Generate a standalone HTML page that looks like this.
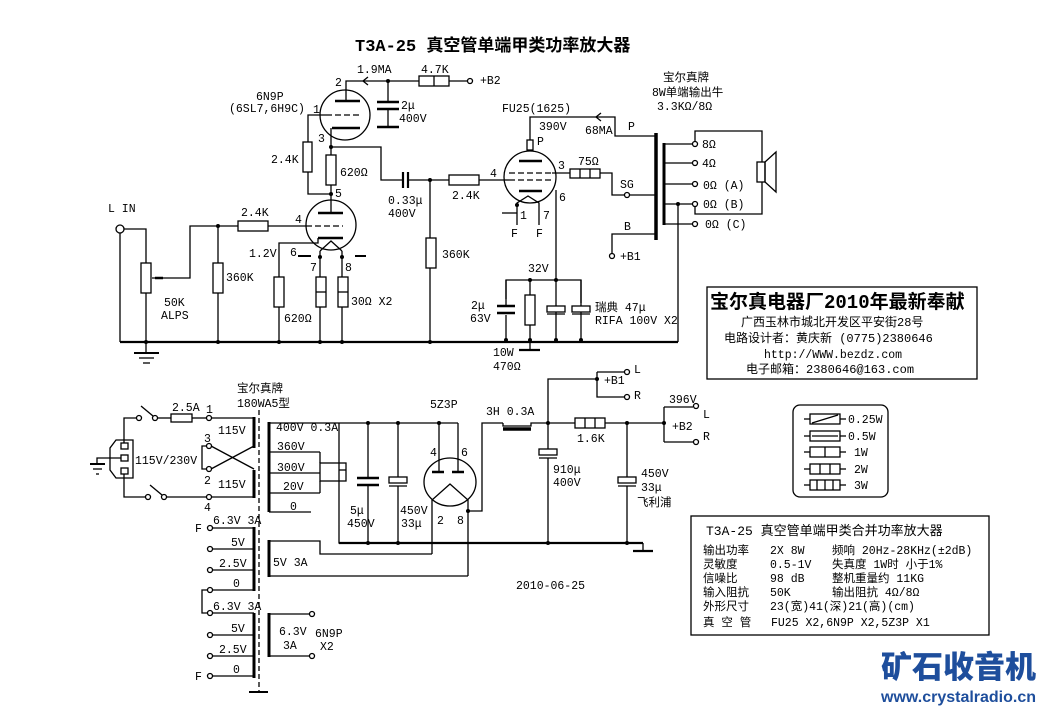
<!DOCTYPE html>
<html><head><meta charset="utf-8"><style>
html,body{margin:0;padding:0;background:#fff;}
svg{display:block;}
text{font-family:"Liberation Mono","Noto Sans CJK SC",monospace;font-size:11.5px;fill:#000;}
.cj{font-family:"Liberation Mono","Noto Sans CJK SC",monospace;}
</style></head><body>
<svg width="1046" height="710" viewBox="0 0 1046 710" xmlns="http://www.w3.org/2000/svg">
<rect width="1046" height="710" fill="#fff"/>
<g stroke="#000" stroke-width="1.3" fill="none">
<polyline points="346,101 346,81 419,81"/>
<rect x="419" y="76" width="30" height="10" fill="#fff"/><line x1="434" y1="76" x2="434" y2="86"/>
<line x1="449" y1="81" x2="467" y2="81"/><circle cx="470" cy="81" r="2.5" fill="#fff"/>
<polyline points="368,77 363,81 368,85"/>
<line x1="388" y1="81" x2="388" y2="102"/>
<line x1="377" y1="102" x2="399" y2="102" stroke-width="2.5"/><line x1="377" y1="109" x2="399" y2="109" stroke-width="2.5"/>
<line x1="388" y1="109" x2="388" y2="127"/><line x1="377" y1="127" x2="399" y2="127" stroke-width="2.5"/>
<circle cx="345" cy="115" r="25"/>
<line x1="335" y1="101" x2="360" y2="101" stroke-width="2.5"/>
<line x1="326" y1="115" x2="360" y2="115" stroke-dasharray="6,3"/>
<line x1="332" y1="128" x2="360" y2="128" stroke-width="2.5"/>
<polyline points="326,115 308,115 308,142"/>
<rect x="303" y="142" width="9" height="30" fill="#fff"/>
<polyline points="308,172 308,194 331,194"/>
<line x1="331" y1="128" x2="331" y2="155"/>
<rect x="326" y="155" width="10" height="30" fill="#fff"/>
<line x1="331" y1="185" x2="331" y2="212"/>
<polyline points="331,147 381,147 381,180 402,180"/>
<line x1="403" y1="172" x2="403" y2="188" stroke-width="2.2"/><line x1="408" y1="172" x2="408" y2="188" stroke-width="2.2"/>
<line x1="408" y1="180" x2="449" y2="180"/>
<rect x="449" y="175" width="30" height="10" fill="#fff"/>
<line x1="479" y1="180" x2="504" y2="180"/>
<line x1="430" y1="180" x2="430" y2="238"/>
<rect x="426" y="238" width="10" height="30" fill="#fff"/>
<line x1="430" y1="268" x2="430" y2="342"/>
<circle cx="331" cy="225" r="25"/>
<line x1="318" y1="213" x2="343" y2="213" stroke-width="2.5"/>
<line x1="306" y1="226" x2="343" y2="226" stroke-dasharray="6,3"/>
<line x1="318" y1="238" x2="343" y2="238" stroke-width="2.5"/>
<polyline points="318,238 318,243 279,243 279,277"/>
<polyline points="320,251 331,241 342,251"/>
<line x1="320" y1="251" x2="320" y2="342"/><line x1="342" y1="251" x2="342" y2="342"/>
<rect x="316" y="277" width="10" height="30" fill="#fff"/><line x1="316" y1="292" x2="326" y2="292"/>
<rect x="338" y="277" width="10" height="30" fill="#fff"/><line x1="338" y1="292" x2="348" y2="292"/>
<rect x="274" y="277" width="10" height="30" fill="#fff"/>
<line x1="279" y1="307" x2="279" y2="342"/>
<line x1="298" y1="256" x2="311" y2="256" stroke-width="2"/><line x1="355" y1="256" x2="366" y2="256" stroke-width="2"/>
<circle cx="120" cy="229" r="4"/>
<polyline points="120,233 120,342"/>
<polyline points="124,229 146,229 146,263"/>
<rect x="141" y="263" width="10" height="30" fill="#fff"/>
<line x1="146" y1="293" x2="146" y2="342"/>
<polyline points="152,278 190,278 190,226 238,226"/>
<line x1="155" y1="278" x2="163" y2="278" stroke-width="2.5"/>
<rect x="238" y="221" width="30" height="10" fill="#fff"/>
<line x1="268" y1="226" x2="306" y2="226"/>
<line x1="218" y1="226" x2="218" y2="263"/>
<rect x="213" y="263" width="10" height="30" fill="#fff"/>
<line x1="218" y1="293" x2="218" y2="342"/>
<line x1="120" y1="342" x2="678" y2="342" stroke-width="2.2"/>
<line x1="134" y1="353" x2="159" y2="353" stroke-width="2"/>
<line x1="139" y1="358" x2="154" y2="358"/><line x1="143" y1="363" x2="150" y2="363"/>
<line x1="146" y1="342" x2="146" y2="353"/>
<circle cx="530" cy="177" r="26"/>
<rect x="527" y="140" width="6" height="10" fill="#fff"/>
<polyline points="530,140 530,117 615,117 615,136 655,136"/>
<polyline points="601,113 596,117 601,121"/>
<line x1="519" y1="161" x2="542" y2="161" stroke-width="2.5"/>
<line x1="509" y1="173" x2="552" y2="173" stroke-dasharray="6,3"/>
<line x1="509" y1="180" x2="552" y2="180" stroke-dasharray="6,3"/>
<line x1="519" y1="191" x2="542" y2="191" stroke-width="2.5"/>
<line x1="504" y1="180" x2="509" y2="180"/>
<polyline points="517,225 517,203 528,196 539,203 539,225"/>
<polyline points="502,213 517,213"/>
<line x1="556" y1="190" x2="556" y2="280"/>
<line x1="552" y1="173" x2="570" y2="173"/>
<rect x="570" y="169" width="30" height="9" fill="#fff"/><line x1="580" y1="169" x2="580" y2="178"/><line x1="590" y1="169" x2="590" y2="178"/>
<polyline points="600,173 612,173 612,195 624,195"/><circle cx="627" cy="195" r="2.5" fill="#fff"/>
<line x1="630" y1="195" x2="655" y2="195"/>
<polyline points="655,234 612,234 612,253"/><circle cx="612" cy="256" r="2.5" fill="#fff"/>
<line x1="656" y1="133" x2="656" y2="240" stroke-width="3.5"/>
<line x1="664" y1="143" x2="664" y2="225" stroke-width="3"/>
<g>
<line x1="664" y1="144" x2="692" y2="144"/><circle cx="695" cy="144" r="2.5" fill="#fff"/>
<line x1="664" y1="163" x2="692" y2="163"/><circle cx="695" cy="163" r="2.5" fill="#fff"/>
<line x1="664" y1="184" x2="692" y2="184"/><circle cx="695" cy="184" r="2.5" fill="#fff"/>
<line x1="664" y1="204" x2="692" y2="204"/><circle cx="695" cy="204" r="2.5" fill="#fff"/>
<line x1="664" y1="224" x2="692" y2="224"/><circle cx="695" cy="224" r="2.5" fill="#fff"/>
</g>
<polyline points="695,141 695,131 762,131 762,214 695,214 695,207"/>
<rect x="757" y="162" width="8" height="20" fill="#fff"/>
<polygon points="765,162 776,152 776,192 765,182"/>
<line x1="678" y1="204" x2="678" y2="342"/>
<polyline points="506,299 506,280 581,280 581,303"/>
<line x1="506" y1="315" x2="506" y2="340"/>
<line x1="497" y1="306" x2="515" y2="306" stroke-width="2.5"/><line x1="497" y1="313" x2="515" y2="313" stroke-width="2.5"/>
<line x1="506" y1="280" x2="506" y2="306"/>
<line x1="530" y1="280" x2="530" y2="295"/>
<rect x="525" y="295" width="10" height="30" fill="#fff"/>
<line x1="530" y1="325" x2="530" y2="342"/>
<rect x="547" y="306" width="18" height="6" fill="#fff"/>
<line x1="556" y1="280" x2="556" y2="306"/><line x1="556" y1="312" x2="556" y2="342"/>
<line x1="547" y1="314" x2="565" y2="314"/>
<rect x="572" y="306" width="18" height="6" fill="#fff"/>
<line x1="581" y1="280" x2="581" y2="306"/><line x1="581" y1="312" x2="581" y2="342"/>
<line x1="572" y1="314" x2="590" y2="314"/>
<line x1="519" y1="350" x2="540" y2="350" stroke-width="2.2"/><line x1="530" y1="342" x2="530" y2="350"/>
<line x1="90" y1="464" x2="105" y2="464" stroke-width="2"/><line x1="93" y1="469" x2="102" y2="469"/><line x1="96" y1="474" x2="99" y2="474"/>
<polyline points="97,464 97,458 124,458"/>
<polygon points="116,440 133,440 133,478 116,478 110,470 110,448"/>
<rect x="121" y="443" width="7" height="6" fill="#fff"/><rect x="121" y="455" width="7" height="6" fill="#fff"/><rect x="121" y="468" width="7" height="6" fill="#fff"/>
<polyline points="124,443 124,418 136,418"/><circle cx="139" cy="418" r="2.5" fill="#fff"/>
<line x1="141" y1="406" x2="153" y2="416"/><circle cx="155" cy="418" r="2.5" fill="#fff"/>
<line x1="157" y1="418" x2="171" y2="418"/><rect x="171" y="414" width="21" height="8" fill="#fff"/>
<line x1="192" y1="418" x2="206" y2="418"/><circle cx="209" cy="418" r="2.5" fill="#fff"/>
<line x1="212" y1="418" x2="254" y2="418"/>
<polyline points="124,474 124,497 145,497"/><circle cx="148" cy="497" r="2.5" fill="#fff"/>
<line x1="150" y1="485" x2="162" y2="495"/><circle cx="164" cy="497" r="2.5" fill="#fff"/>
<line x1="167" y1="497" x2="206" y2="497"/><circle cx="209" cy="497" r="2.5" fill="#fff"/>
<line x1="212" y1="497" x2="254" y2="497"/>
<circle cx="209" cy="446" r="2.5" fill="#fff"/><circle cx="209" cy="469" r="2.5" fill="#fff"/>
<polyline points="207,446 202,446 202,469 207,469"/>
<line x1="211" y1="446" x2="254" y2="469"/><line x1="211" y1="469" x2="254" y2="446"/>
<line x1="254" y1="417" x2="254" y2="448" stroke-width="3"/>
<line x1="254" y1="470" x2="254" y2="498" stroke-width="3"/>
<line x1="259" y1="410" x2="259" y2="692" stroke-dasharray="5,3"/>
<line x1="249" y1="692" x2="268" y2="692" stroke-width="2"/>
<line x1="269" y1="422" x2="269" y2="512" stroke-width="3"/>
<line x1="269" y1="423" x2="339" y2="423"/>
<line x1="269" y1="452" x2="320" y2="452"/><line x1="320" y1="452" x2="320" y2="463"/>
<line x1="269" y1="473" x2="320" y2="473"/>
<line x1="269" y1="493" x2="320" y2="493"/><line x1="320" y1="493" x2="320" y2="481"/>
<line x1="269" y1="512" x2="311" y2="512"/>
<rect x="320" y="463" width="26" height="18" fill="#fff"/>
<line x1="346" y1="470" x2="339" y2="470"/>
<polyline points="339,423 339,543 643,543"/>
<line x1="339" y1="543" x2="643" y2="543" stroke-width="2.2"/>
<line x1="643" y1="543" x2="643" y2="551"/><line x1="633" y1="551" x2="653" y2="551" stroke-width="2.2"/>
<line x1="339" y1="423" x2="458" y2="423"/>
<line x1="368" y1="423" x2="368" y2="478"/><line x1="357" y1="478" x2="379" y2="478" stroke-width="2.5"/>
<line x1="357" y1="485" x2="379" y2="485" stroke-width="2.5"/><line x1="368" y1="485" x2="368" y2="543"/>
<line x1="398" y1="423" x2="398" y2="477"/><rect x="389" y="477" width="18" height="6" fill="#fff"/>
<line x1="389" y1="486" x2="407" y2="486"/><line x1="398" y1="486" x2="398" y2="543"/>
<ellipse cx="450" cy="482" rx="26" ry="24"/>
<line x1="439" y1="423" x2="439" y2="472"/><line x1="458" y1="423" x2="458" y2="472"/>
<line x1="432" y1="472" x2="444" y2="472" stroke-width="2.5"/><line x1="452" y1="472" x2="464" y2="472" stroke-width="2.5"/>
<polyline points="432,554 432,500 450,484 468,500 468,576"/>
<line x1="269" y1="540" x2="269" y2="577" stroke-width="3"/>
<polyline points="269,541 320,541 320,554 432,554"/>
<line x1="269" y1="576" x2="468" y2="576"/>
<polyline points="468,511 482,511 482,423 503,423"/>
<line x1="503" y1="429" x2="531" y2="429" stroke-width="3.5"/>
<polyline points="503,423 503,426 531,426 531,423 548,423"/>
<line x1="548" y1="423" x2="575" y2="423"/>
<rect x="575" y="418" width="30" height="10" fill="#fff"/><line x1="585" y1="418" x2="585" y2="428"/><line x1="595" y1="418" x2="595" y2="428"/>
<line x1="605" y1="423" x2="664" y2="423"/>
<polyline points="548,423 548,379 597,379"/>
<polyline points="597,372 597,397 624,397"/><circle cx="627" cy="397" r="2.5" fill="#fff"/>
<polyline points="597,372 624,372"/><circle cx="627" cy="372" r="2.5" fill="#fff"/>
<line x1="548" y1="423" x2="548" y2="449"/><rect x="539" y="449" width="18" height="6" fill="#fff"/>
<line x1="539" y1="458" x2="557" y2="458"/><line x1="548" y1="458" x2="548" y2="543"/>
<line x1="627" y1="423" x2="627" y2="477"/><rect x="618" y="477" width="18" height="6" fill="#fff"/>
<line x1="618" y1="486" x2="636" y2="486"/><line x1="627" y1="486" x2="627" y2="543"/>
<polyline points="664,407 664,442"/>
<polyline points="664,407 693,407"/><circle cx="696" cy="406" r="2.5" fill="#fff"/>
<polyline points="664,442 693,442"/><circle cx="696" cy="442" r="2.5" fill="#fff"/>
<line x1="254" y1="527" x2="254" y2="591" stroke-width="3"/>
<line x1="254" y1="613" x2="254" y2="678" stroke-width="3"/>
<g>
<line x1="212" y1="528" x2="254" y2="528"/><circle cx="210" cy="528" r="2.5" fill="#fff"/>
<line x1="212" y1="549" x2="254" y2="549"/><circle cx="210" cy="549" r="2.5" fill="#fff"/>
<line x1="212" y1="570" x2="254" y2="570"/><circle cx="210" cy="570" r="2.5" fill="#fff"/>
<line x1="212" y1="590" x2="254" y2="590"/><circle cx="210" cy="590" r="2.5" fill="#fff"/>
<line x1="212" y1="613" x2="254" y2="613"/><circle cx="210" cy="613" r="2.5" fill="#fff"/>
<line x1="212" y1="635" x2="254" y2="635"/><circle cx="210" cy="635" r="2.5" fill="#fff"/>
<line x1="212" y1="656" x2="254" y2="656"/><circle cx="210" cy="656" r="2.5" fill="#fff"/>
<line x1="212" y1="676" x2="254" y2="676"/><circle cx="210" cy="676" r="2.5" fill="#fff"/>
</g>
<polyline points="207,590 202,590 202,613 207,613"/>
<line x1="269" y1="613" x2="269" y2="657" stroke-width="3"/>
<line x1="269" y1="614" x2="309" y2="614"/><circle cx="312" cy="614" r="2.5" fill="#fff"/>
<line x1="269" y1="656" x2="309" y2="656"/><circle cx="312" cy="656" r="2.5" fill="#fff"/>
<rect x="793" y="405" width="95" height="92" rx="7"/>
<g>
<rect x="810" y="414" width="30" height="10" fill="#fff"/><line x1="804" y1="419" x2="810" y2="419"/><line x1="840" y1="419" x2="846" y2="419"/><line x1="812" y1="423" x2="838" y2="415"/>
<rect x="810" y="431" width="30" height="10" fill="#fff"/><line x1="804" y1="436" x2="810" y2="436"/><line x1="840" y1="436" x2="846" y2="436"/><line x1="812" y1="436" x2="838" y2="436"/>
<rect x="810" y="447" width="30" height="10" fill="#fff"/><line x1="804" y1="452" x2="810" y2="452"/><line x1="840" y1="452" x2="846" y2="452"/><line x1="825" y1="447" x2="825" y2="457"/>
<rect x="810" y="464" width="30" height="10" fill="#fff"/><line x1="804" y1="469" x2="810" y2="469"/><line x1="840" y1="469" x2="846" y2="469"/><line x1="820" y1="464" x2="820" y2="474"/><line x1="830" y1="464" x2="830" y2="474"/>
<rect x="810" y="480" width="30" height="10" fill="#fff"/><line x1="804" y1="485" x2="810" y2="485"/><line x1="840" y1="485" x2="846" y2="485"/><line x1="817" y1="480" x2="817" y2="490"/><line x1="825" y1="480" x2="825" y2="490"/><line x1="833" y1="480" x2="833" y2="490"/>
</g>
<rect x="707" y="287" width="270" height="92"/>
<rect x="691" y="516" width="298" height="119"/>
</g>
<g fill="#000">
<circle cx="388" cy="81" r="2"/><circle cx="331" cy="147" r="2"/><circle cx="331" cy="194" r="2"/><circle cx="430" cy="180" r="2"/>
<circle cx="218" cy="226" r="2"/><circle cx="146" cy="342" r="2"/><circle cx="218" cy="342" r="2"/><circle cx="279" cy="342" r="2"/>
<circle cx="320" cy="342" r="2"/><circle cx="342" cy="342" r="2"/><circle cx="430" cy="342" r="2"/><circle cx="320" cy="257" r="2"/><circle cx="342" cy="257" r="2"/>
<circle cx="517" cy="205" r="2"/><circle cx="530" cy="280" r="2"/><circle cx="556" cy="280" r="2"/><circle cx="678" cy="204" r="2"/>
<circle cx="506" cy="340" r="2"/><circle cx="530" cy="340" r="2"/><circle cx="556" cy="340" r="2"/><circle cx="581" cy="340" r="2"/>
<circle cx="368" cy="423" r="2"/><circle cx="398" cy="423" r="2"/><circle cx="439" cy="423" r="2"/><circle cx="368" cy="543" r="2"/><circle cx="398" cy="543" r="2"/>
<circle cx="548" cy="423" r="2"/><circle cx="627" cy="423" r="2"/><circle cx="664" cy="423" r="2"/><circle cx="548" cy="543" r="2"/><circle cx="627" cy="543" r="2"/><circle cx="468" cy="511" r="2"/><circle cx="597" cy="379" r="2"/>
</g>
<text x="355" y="51" style="font-size:17px;font-weight:bold" class="cj">T3A-25 真空管单端甲类功率放大器</text>
<text x="357" y="73">1.9MA</text><text x="421" y="73">4.7K</text><text x="480" y="84">+B2</text>
<text x="335" y="86">2</text><text x="313" y="113">1</text><text x="318" y="142">3</text><text x="335" y="197">5</text>
<text x="295" y="223">4</text><text x="290" y="256">6</text><text x="310" y="271">7</text><text x="345" y="271">8</text>
<text x="256" y="100">6N9P</text><text x="229" y="112">(6SL7,6H9C)</text>
<text x="401" y="109">2μ</text><text x="399" y="122">400V</text>
<text x="271" y="163">2.4K</text><text x="340" y="176">620Ω</text>
<text x="388" y="204">0.33μ</text><text x="388" y="217">400V</text>
<text x="452" y="199">2.4K</text><text x="490" y="177">4</text>
<text x="442" y="258">360K</text>
<text x="108" y="212">L IN</text><text x="241" y="216">2.4K</text>
<text x="226" y="281">360K</text><text x="249" y="257">1.2V</text>
<text x="164" y="306">50K</text><text x="161" y="319">ALPS</text>
<text x="284" y="322">620Ω</text><text x="351" y="305">30Ω X2</text>
<text x="502" y="112">FU25(1625)</text><text x="539" y="130">390V</text><text x="585" y="134">68MA</text>
<text x="537" y="145">P</text><text x="628" y="130">P</text><text x="558" y="169">3</text><text x="578" y="165">75Ω</text>
<text x="620" y="188">SG</text><text x="559" y="201">6</text><text x="520" y="219">1</text><text x="543" y="219">7</text>
<text x="511" y="237">F</text><text x="536" y="237">F</text>
<text x="624" y="230">B</text><text x="620" y="260">+B1</text>
<text x="663" y="81" class="cj">宝尔真牌</text><text x="652" y="96" class="cj">8W单端输出牛</text><text x="657" y="110">3.3KΩ/8Ω</text>
<text x="702" y="148">8Ω</text><text x="702" y="167">4Ω</text><text x="703" y="189">0Ω (A)</text><text x="703" y="208">0Ω (B)</text><text x="705" y="228">0Ω (C)</text>
<text x="528" y="272">32V</text>
<text x="471" y="309">2μ</text><text x="470" y="322">63V</text>
<text x="595" y="311" class="cj">瑞典 47μ</text><text x="595" y="324">RIFA 100V X2</text>
<text x="493" y="356">10W</text><text x="493" y="370">470Ω</text>
<text x="710" y="308" class="cj" style="font-size:19px;font-weight:bold">宝尔真电器厂2010年最新奉献</text>
<text x="741" y="326" class="cj" style="font-size:12px">广西玉林市城北开发区平安街28号</text>
<text x="724" y="342" class="cj" style="font-size:12px">电路设计者：黄庆新  (0775)2380646</text>
<text x="764" y="358">http://WWW.bezdz.com</text>
<text x="746" y="373" class="cj" style="font-size:12px">电子邮箱：2380646@163.com</text>
<text x="237" y="392" class="cj">宝尔真牌</text><text x="237" y="407">180WA5型</text>
<text x="172" y="411">2.5A</text><text x="206" y="413">1</text><text x="204" y="442">3</text><text x="204" y="484">2</text><text x="204" y="511">4</text>
<text x="218" y="434">115V</text><text x="218" y="488">115V</text><text x="135" y="464">115V/230V</text>
<text x="276" y="431">400V 0.3A</text><text x="277" y="450">360V</text><text x="277" y="471">300V</text><text x="283" y="490">20V</text><text x="290" y="510">0</text>
<text x="350" y="514">5μ</text><text x="347" y="527">450V</text><text x="400" y="514">450V</text><text x="401" y="527">33μ</text>
<text x="430" y="408">5Z3P</text><text x="430" y="456">4</text><text x="461" y="456">6</text><text x="437" y="524">2</text><text x="457" y="524">8</text>
<text x="486" y="415">3H 0.3A</text><text x="577" y="442">1.6K</text>
<text x="553" y="473">910μ</text><text x="553" y="486">400V</text>
<text x="641" y="477">450V</text><text x="641" y="491">33μ</text><text x="637" y="506" class="cj">飞利浦</text>
<text x="604" y="384">+B1</text><text x="634" y="373">L</text><text x="634" y="399">R</text>
<text x="669" y="403">396V</text><text x="672" y="430">+B2</text><text x="703" y="418">L</text><text x="703" y="440">R</text>
<text x="273" y="566">5V 3A</text><text x="516" y="589">2010-06-25</text>
<text x="195" y="532">F</text><text x="213" y="524">6.3V 3A</text><text x="231" y="546">5V</text><text x="219" y="567">2.5V</text><text x="233" y="587">0</text>
<text x="213" y="610">6.3V 3A</text><text x="231" y="632">5V</text><text x="219" y="653">2.5V</text><text x="233" y="673">0</text><text x="195" y="680">F</text>
<text x="279" y="635">6.3V</text><text x="283" y="649">3A</text><text x="315" y="637">6N9P</text><text x="320" y="650">X2</text>
<text x="848" y="423">0.25W</text><text x="848" y="440">0.5W</text><text x="854" y="456">1W</text><text x="854" y="473">2W</text><text x="854" y="489">3W</text>
<text x="706" y="535" class="cj" style="font-size:13px">T3A-25 真空管单端甲类合并功率放大器</text>
<g style="font-size:12px">
<text x="703" y="554" class="cj">输出功率</text><text x="770" y="554">2X 8W</text><text x="832" y="554" class="cj">频响 20Hz-28KHz(±2dB)</text>
<text x="703" y="568" class="cj">灵敏度</text><text x="770" y="568">0.5-1V</text><text x="832" y="568" class="cj">失真度   1W时 小于1%</text>
<text x="703" y="582" class="cj">信噪比</text><text x="770" y="582">98 dB</text><text x="832" y="582" class="cj">整机重量约  11KG</text>
<text x="703" y="596" class="cj">输入阻抗</text><text x="770" y="596">50K</text><text x="832" y="596" class="cj">输出阻抗   4Ω/8Ω</text>
<text x="703" y="610" class="cj">外形尺寸</text><text x="770" y="610" class="cj">23(宽)41(深)21(高)(cm)</text>
<text x="703" y="626" class="cj">真 空 管</text><text x="771" y="626">FU25 X2,6N9P X2,5Z3P X1</text>
</g>
<text x="881" y="678" style="font-family:'Noto Sans CJK SC',sans-serif;font-size:31px;font-weight:900;fill:#1e4e9c">矿石收音机</text>
<text x="881" y="702" style="font-family:'Liberation Sans',sans-serif;font-size:16px;font-weight:bold;fill:#1e4e9c">www.crystalradio.cn</text>
</svg>
</body></html>
